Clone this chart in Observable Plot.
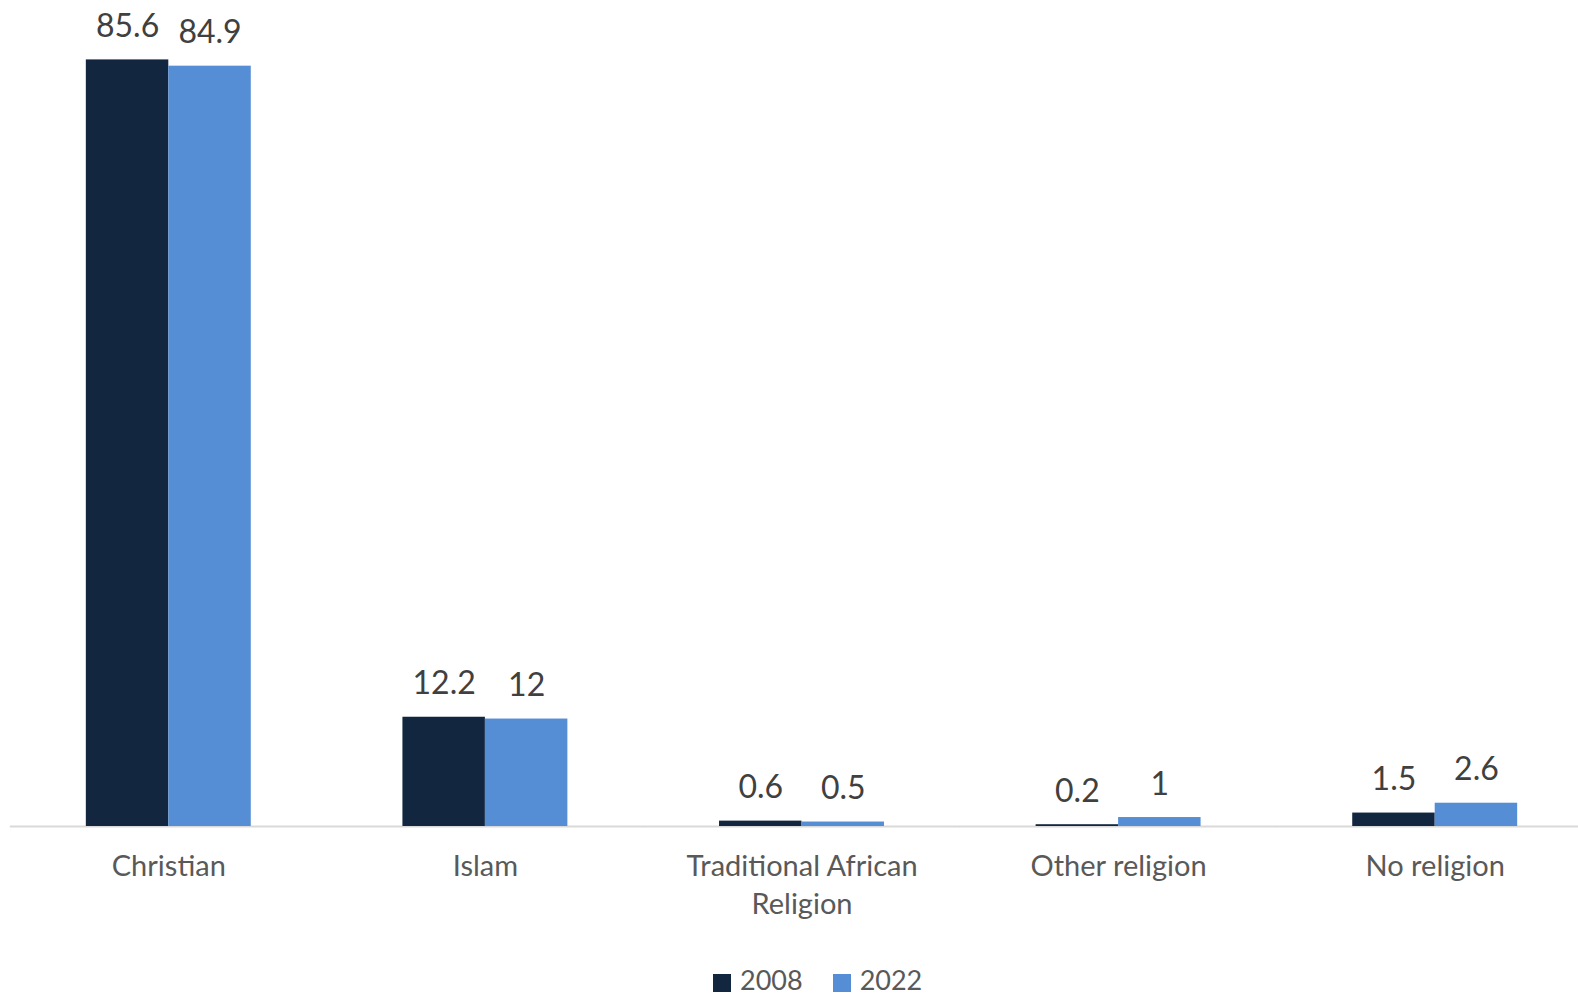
<!DOCTYPE html>
<html><head><meta charset="utf-8">
<script src="https://cdn.jsdelivr.net/npm/d3@7"></script>
<script src="https://cdn.jsdelivr.net/npm/@observablehq/plot@0.6"></script>
<style>
body{margin:0;background:#fff;overflow:hidden;width:1578px;height:995px;position:relative;font-family:Lato,sans-serif}
#chart{position:absolute;left:0;top:0}
#legend{position:absolute;top:965px;left:713px;display:flex;align-items:center;font-size:27px;color:#595959;line-height:30px;white-space:nowrap}
#legend .sw{width:18px;height:18px;display:inline-block;margin-right:9px;margin-top:6px}
#legend .it{display:flex;align-items:center;margin-right:30px}
</style></head><body>
<div id="chart"></div><div id="legend"></div>
<script>
const categories = ["Christian", "Islam", "Traditional African Religion", "Other religion", "No religion"];
const tickLabels = ["Christian", "Islam", "Traditional African\nReligion", "Other religion", "No religion"];
const years = ["2008", "2022"];
const values2008 = [85.6, 12.2, 0.6, 0.2, 1.5];
const values2022 = [84.9, 12, 0.5, 1, 2.6];
const colors = ["#13263f", "#558ed5"];

const data = categories.flatMap((c, i) => [
  {category: c, year: years[0], value: values2008[i]},
  {category: c, year: years[1], value: values2022[i]}
]);

const chart = Plot.plot({
  width: 1578, height: 945,
  marginLeft: 10, marginRight: -15, marginTop: 20, marginBottom: 119,
  style: {fontFamily: "Lato, sans-serif", background: "transparent", overflow: "visible"},
  fx: {domain: categories, paddingInner: 0.479, paddingOuter: 0.2395, axis: null, label: null, round: false},
  x: {domain: years, axis: null, padding: 0, round: false},
  y: {domain: [0, 90], axis: null},
  color: {domain: years, range: colors},
  marks: [
    Plot.ruleY([0], {stroke: "#d9d9d9", strokeWidth: 2, insetLeft: -76, insetRight: -76}),
    Plot.barY(data, {fx: "category", x: "year", y: "value", fill: "year", inset: 0}),
    Plot.text(data, {fx: "category", x: "year", y: "value", text: d => String(d.value), lineAnchor: "bottom", dy: -23, fontSize: 32, fill: "#404040"}),
    Plot.text(categories, {fx: d => d, text: (d, i) => tickLabels[i], frameAnchor: "bottom", lineAnchor: "top", dy: 22, fontSize: 29, lineHeight: 1.33, fill: "#595959"})
  ]
});
document.getElementById("chart").appendChild(chart);

const legend = document.getElementById("legend");
years.forEach((y, i) => {
  const it = document.createElement("div");
  it.className = "it";
  it.innerHTML = `<span class="sw" style="background:${colors[i]}"></span><span>${y}</span>`;
  legend.appendChild(it);
});
</script>
</body></html>
